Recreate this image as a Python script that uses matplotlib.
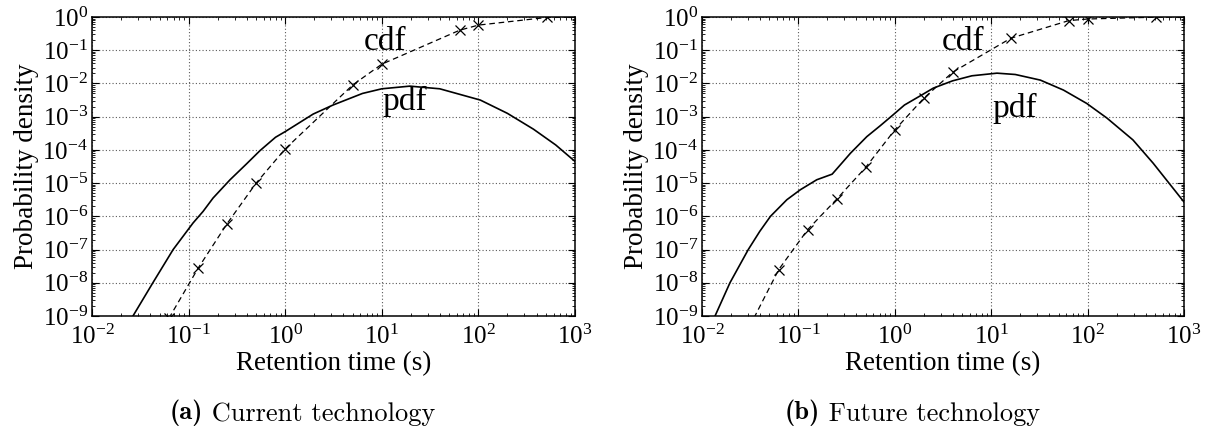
import matplotlib
matplotlib.use("Agg")
import matplotlib.pyplot as plt
from matplotlib.ticker import LogLocator, FixedLocator, FixedFormatter, NullFormatter

plt.rcParams['font.family'] = ['Liberation Serif', 'DejaVu Serif']
plt.rcParams['mathtext.fontset'] = 'custom'
plt.rcParams['mathtext.rm'] = 'Liberation Serif'
plt.rcParams['mathtext.it'] = 'Liberation Serif:italic'
plt.rcParams['mathtext.bf'] = 'Liberation Serif:bold'

# ---------------- data ----------------
# (a) current technology
a_pdf_x = [0.02655, 0.04266, 0.06918, 0.1112, 0.1413, 0.1791, 0.2685, 0.3981, 0.5483,
           0.7943, 1.0, 1.950, 3.126, 6.310, 10.0, 19.50, 39.81, 104.7, 199.5, 371.5,
           631.0, 1000]
a_pdf_y = [1e-9, 1e-8, 1e-7, 6.31e-7, 1.41e-6, 3.55e-6, 1.26e-5, 3.8e-5, 9.5e-5,
           2.4e-4, 3.55e-4, 1.2e-3, 2.24e-3, 5.0e-3, 6.9e-3, 8.3e-3, 6.9e-3, 3.16e-3,
           1.26e-3, 4.2e-4, 1.41e-4, 4.5e-5]
a_cdf_x = [0.0625, 0.125, 0.25, 0.5, 1, 5, 10, 64, 100, 512]
a_cdf_y = [8.5e-10, 2.7e-8, 6e-7, 1e-5, 1.07e-4, 9e-3, 3.8e-2, 0.4, 0.57, 0.97]

# (b) future technology
b_pdf_x = [0.01365, 0.0195, 0.0302, 0.0398, 0.0513, 0.0759, 0.1047, 0.1549, 0.2239,
           0.2818, 0.3467, 0.5129, 0.7079, 0.955, 1.259, 1.820, 2.512, 3.981, 6.310,
           11.48, 17.78, 32.36, 56.23, 97.72, 158.5, 295.1, 478.6, 631.0, 1000]
b_pdf_y = [1e-9, 1e-8, 1e-7, 3.55e-7, 1e-6, 3.16e-6, 6.31e-6, 1.26e-5, 1.86e-5,
           3.98e-5, 7.94e-5, 2.51e-4, 5.37e-4, 1.12e-3, 2.24e-3, 4.17e-3, 7.24e-3,
           1.2e-2, 1.7e-2, 2.04e-2, 1.86e-2, 1.26e-2, 6.31e-3, 2.51e-3, 9.1e-4,
           2.0e-4, 3.98e-5, 1.45e-5, 2.7e-6]
b_cdf_x = [0.03125, 0.0625, 0.125, 0.25, 0.5, 1, 2, 4, 16, 64, 100, 512]
b_cdf_y = [4.9e-10, 2.5e-8, 4e-7, 3.3e-6, 3e-5, 4e-4, 3.6e-3, 2.2e-2, 0.23, 0.78, 0.87, 0.99]

cdf_end_x = 1000
cdf_end_y = 1.0

x_exps = [-2, -1, 0, 1, 2, 3]
y_exps = [0, -1, -2, -3, -4, -5, -6, -7, -8, -9]
x_ticklabels = [r'$10^{%d}$' % e for e in x_exps]
y_ticklabels = [r'$10^{%d}$' % e for e in y_exps]

panels = [
    dict(pdf_x=a_pdf_x, pdf_y=a_pdf_y, cdf_x=a_cdf_x, cdf_y=a_cdf_y,
         cdf_label_pos=(10.7, 0.1), pdf_label_pos=(17.4, 1.6e-3),
         tag='(a)', caption=' Current technology'),
    dict(pdf_x=b_pdf_x, pdf_y=b_pdf_y, cdf_x=b_cdf_x, cdf_y=b_cdf_y,
         cdf_label_pos=(5.1, 0.1), pdf_label_pos=(17.5, 1.0e-3),
         tag='(b)', caption=' Future technology'),
]

W, H = 1210, 433
fig = plt.figure(figsize=(W / 100, H / 100), dpi=100)

ax_rects = [(92 / W, 117 / H, 483 / W, 299 / H),
            (702 / W, 117 / H, 482 / W, 299 / H)]
caption_x = [170 / W, 785 / W]

for p, rect, cx in zip(panels, ax_rects, caption_x):
    ax = fig.add_axes(rect)
    ax.set_xscale('log')
    ax.set_yscale('log')
    ax.set_xlim(10.0 ** min(x_exps), 10.0 ** max(x_exps))
    ax.set_ylim(10.0 ** min(y_exps), 10.0 ** max(y_exps))

    ax.plot(p['pdf_x'], p['pdf_y'], color='black', lw=1.2, solid_joinstyle='round')
    ax.plot(list(p['cdf_x']) + [cdf_end_x], list(p['cdf_y']) + [cdf_end_y],
            color='black', lw=0.9, linestyle=(0, (4.5, 3)))
    ax.plot(p['cdf_x'], p['cdf_y'], linestyle='none', marker='x',
            color='black', markersize=7, markeredgewidth=0.9)

    ax.text(*p['cdf_label_pos'], 'cdf', fontsize=24, ha='center', va='baseline')
    ax.text(*p['pdf_label_pos'], 'pdf', fontsize=24, ha='center', va='baseline')

    ax.xaxis.set_major_locator(FixedLocator([10.0 ** e for e in x_exps]))
    ax.xaxis.set_major_formatter(FixedFormatter(x_ticklabels))
    ax.yaxis.set_major_locator(FixedLocator([10.0 ** e for e in y_exps]))
    ax.yaxis.set_major_formatter(FixedFormatter(y_ticklabels))
    ax.xaxis.set_minor_locator(LogLocator(base=10, subs=range(2, 10), numticks=50))
    ax.yaxis.set_minor_locator(LogLocator(base=10, subs=range(2, 10), numticks=50))
    ax.xaxis.set_minor_formatter(NullFormatter())
    ax.yaxis.set_minor_formatter(NullFormatter())

    ax.tick_params(which='both', direction='in', top=True, right=True,
                   labelsize=18)
    ax.tick_params(axis='x', pad=6)
    ax.tick_params(axis='y', pad=3)
    ax.tick_params(which='major', length=5, width=0.8)
    ax.tick_params(which='minor', length=2.5, width=0.6)
    for s in ax.spines.values():
        s.set_linewidth(1.1)

    ax.grid(True, which='major', linestyle=(0, (1, 2)), color='0.35', lw=0.8)

    ax.set_xlabel('Retention time (s)', fontsize=19.5, labelpad=2)
    ax.set_ylabel('Probability density', fontsize=19.5, labelpad=2)

    t1 = fig.text(cx, 1 - 413 / H, p['tag'], family='cmb10', fontsize=19,
                  ha='left', va='center')
    fig.canvas.draw()
    ax.annotate(p['caption'], xy=(1, 0), xycoords=t1, family='cmr10',
                fontsize=19, ha='left', va='bottom', annotation_clip=False)

fig.savefig('out.png', dpi=100)
